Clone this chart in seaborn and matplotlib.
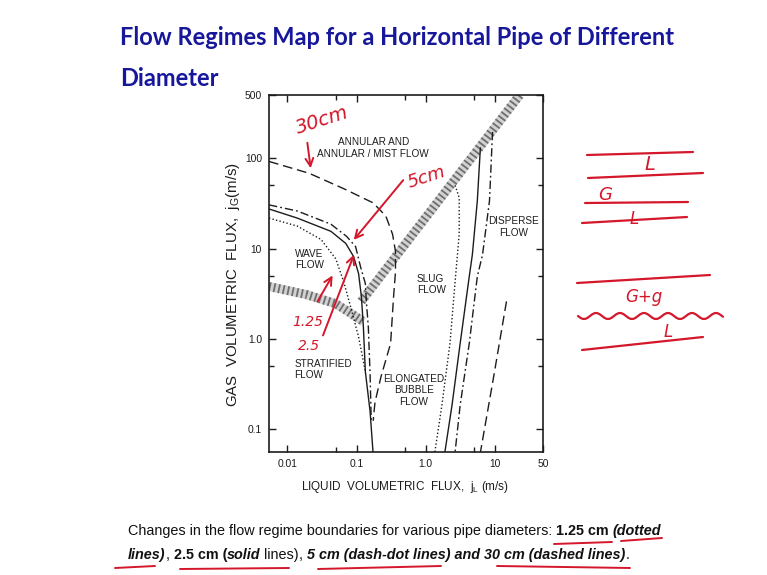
import matplotlib
matplotlib.use("Agg")
import numpy as np
import pandas as pd
import matplotlib.pyplot as plt
import seaborn as sns
from matplotlib import font_manager
from matplotlib.lines import Line2D

# ---------------- data ----------------
x_tick_values = [0.01, 0.1, 1.0, 10, 50]
x_tick_labels = ["0.01", "0.1", "1.0", "10", "50"]
x_minor_values = [0.05, 0.5, 5]
y_tick_values = [0.1, 1.0, 10, 100, 500]
y_tick_labels = ["0.1", "1.0", "10", "100", "500"]
y_minor_values = [0.5, 5, 50]

# hatched transition bands
band_slug_jl = [0.117, 1.0, 23.0]
band_slug_jg = [2.6, 22.0, 500.0]
band_strat_jl = [0.0054, 0.0186, 0.050, 0.076, 0.126]
band_strat_jg = [3.8, 3.1, 2.45, 2.0, 1.55]

# 1.25 cm (dotted)
d125_left_jl = [0.0054, 0.0139, 0.0306, 0.050, 0.065, 0.082, 0.107, 0.134]
d125_left_jg = [21.7, 17.7, 12.6, 7.7, 4.3, 2.27, 1.05, 0.435]
d125_right_jl = [2.67, 3.06, 3.06, 2.67, 2.25, 1.72, 1.36]
d125_right_jg = [50, 36.5, 14.4, 4.3, 0.89, 0.185, 0.056]

# 2.5 cm (solid)
d25_left_jl = [0.0054, 0.0139, 0.0425, 0.0697, 0.0906, 0.107, 0.1175, 0.1255, 0.134, 0.157, 0.173]
d25_left_jg = [27.4, 21.7, 15.5, 11.4, 8.15, 5.27, 2.93, 1.36, 0.435, 0.157, 0.056]
d25_right_jl = [6.2, 5.6, 4.75, 4.28, 3.16, 2.41, 1.9]
d25_right_jg = [130, 33.7, 8.6, 4.9, 0.89, 0.185, 0.056]

# 5 cm (dash-dot)
d5_left_jl = [0.0054, 0.0139, 0.0425, 0.072, 0.0968, 0.114, 0.134, 0.138, 0.148, 0.157, 0.163]
d5_left_jg = [30.4, 26, 18.6, 13.6, 10.5, 6.3, 4.1, 2.7, 1.36, 0.405, 0.124]
d5_right_jl = [9.3, 8.4, 6.67, 5.6, 4.28, 3.16, 2.67]
d5_right_jg = [195, 33.7, 8.6, 4.9, 0.89, 0.185, 0.056]

# 30 cm (dashed)
d30_left_jl = [0.0054, 0.0206, 0.065, 0.174, 0.265, 0.332, 0.366, 0.366, 0.343, 0.311, 0.225, 0.185, 0.174]
d30_left_jg = [92, 68, 46, 32, 22.9, 14.4, 9.3, 5.5, 2.9, 0.89, 0.378, 0.2, 0.124]
d30_right_jl = [14.8, 9.7, 6.22]
d30_right_jg = [2.6, 0.39, 0.056]

region_labels = ["ANNULAR AND\nANNULAR / MIST FLOW", "WAVE\nFLOW", "SLUG\nFLOW",
                 "DISPERSE\nFLOW", "STRATIFIED\nFLOW", "ELONGATED\nBUBBLE\nFLOW"]
region_x = [0.174, 0.013, 0.746, 19.0, 0.0126, 0.678]
region_y = [130, 7.55, 3.98, 17.2, 0.457, 0.271]
region_ha = ["center", "left", "left", "center", "left", "center"]

title_line1 = "Flow Regimes Map for a Horizontal Pipe of Different"
title_line2 = "Diameter"
caption_segments = [
    ("Changes in the flow regime boundaries for various pipe diameters: ", "normal", "normal"),
    ("1.25 cm ", "bold", "normal"),
    ("(dotted", "bold", "italic"),
]
caption_segments2 = [
    ("lines)", "bold", "italic"),
    (", ", "normal", "normal"),
    ("2.5 cm (", "bold", "normal"),
    ("solid", "bold", "italic"),
    (" lines)", "normal", "normal"),
    (", ", "normal", "normal"),
    ("5 cm (dash-dot lines) and 30 cm (dashed lines)", "bold", "italic"),
    (".", "normal", "normal"),
]

# ---------------- style ----------------
sns.set_theme(style="ticks")
names = {f.name for f in font_manager.fontManager.ttflist}
NARROW = "Liberation Sans Narrow" in names
cfont = "Liberation Sans Narrow" if NARROW else "Liberation Sans"
k = 1.0 if NARROW else 0.82
plt.rcParams["font.family"] = [cfont, "DejaVu Sans"]
plt.rcParams["mathtext.fontset"] = "custom"
plt.rcParams["mathtext.rm"] = cfont
plt.rcParams["mathtext.it"] = cfont + ":italic"

W, H = 767, 575
fig = plt.figure(figsize=(W / 100, H / 100), dpi=100, facecolor="white")
ax = fig.add_axes([269 / W, 1 - 452 / H, (543 - 269) / W, (452 - 95) / H])
ax.set_facecolor("white")
ax.set_xscale("log")
ax.set_yscale("log")
ax.set_xlim(0.0054, 50)
ax.set_ylim(0.056, 500)

INK = "#1c1c1c"


def band(jl, jg):
    df = pd.DataFrame({"jl": jl, "jg": jg})
    sns.lineplot(data=df, x="jl", y="jg", sort=False, estimator=None, ax=ax,
                 color="#d2d2d2", lw=6.5, solid_capstyle="butt")
    sns.lineplot(data=df, x="jl", y="jg", sort=False, estimator=None, ax=ax,
                 color="#6e6e6e", lw=6.5)
    ln = ax.lines[-1]
    ln.set_linestyle((0, (0.2, 0.32)))
    ln.set_dash_capstyle("butt")


def curve(jl, jg, ls):
    df = pd.DataFrame({"jl": jl, "jg": jg})
    sns.lineplot(data=df, x="jl", y="jg", sort=False, estimator=None, ax=ax,
                 color=INK, lw=1.0)
    ax.lines[-1].set_linestyle(ls)


band(band_slug_jl, band_slug_jg)
band(band_strat_jl, band_strat_jg)

DOT = (0, (1.0, 1.6))
DASHDOT = (0, (6, 2.2, 1.3, 2.2))
DASH = (0, (7, 3.5))
curve(d125_left_jl, d125_left_jg, DOT)
curve(d125_right_jl, d125_right_jg, DOT)
curve(d25_left_jl, d25_left_jg, "-")
curve(d25_right_jl, d25_right_jg, "-")
curve(d5_left_jl, d5_left_jg, DASHDOT)
curve(d5_right_jl, d5_right_jg, DASHDOT)
curve(d30_left_jl, d30_left_jg, DASH)
curve(d30_right_jl, d30_right_jg, DASH)

for lab, xv, yv, ha in zip(region_labels, region_x, region_y, region_ha):
    ax.text(xv, yv, lab, ha=ha, va="center", multialignment=ha,
            fontsize=8.8 * k, color=INK, linespacing=1.2)

ax.set_xticks(x_tick_values)
ax.set_xticklabels(x_tick_labels)
ax.set_xticks(x_minor_values, minor=True)
ax.set_xticklabels([], minor=True)
ax.set_yticks(y_tick_values)
ax.set_yticklabels(y_tick_labels)
ax.set_yticks(y_minor_values, minor=True)
ax.set_yticklabels([], minor=True)
ax.tick_params(which="both", direction="in", top=True, right=True,
               colors=INK, width=1.0)
ax.tick_params(which="major", length=5, labelsize=9 * k, pad=5)
ax.tick_params(which="minor", length=3.5)
for s in ax.spines.values():
    s.set_color(INK)
    s.set_linewidth(1.2)

ax.set_xlabel(r"LIQUID  VOLUMETRIC  FLUX,  $\mathrm{j_L}$ (m/s)", fontsize=10.3 * k, color=INK)
ax.set_ylabel(r"GAS  VOLUMETRIC  FLUX,  $\mathrm{j_G}$(m/s)", fontsize=13.2 * k, color=INK)
ax.xaxis.set_label_coords(0.496, -0.075)
ax.yaxis.set_label_coords(-0.098, 0.468)

# ---------------- title ----------------
tfont = "Liberation Sans Narrow" if NARROW else "Lato"
tsize = 18.3 if NARROW else 17.0
for line, base in ((title_line1, 45), (title_line2, 86)):
    fig.text(120 / W, 1 - base / H, line, ha="left", va="baseline", fontsize=tsize,
             fontweight="bold", color="#17179c", family=[tfont, "DejaVu Sans"])

# ---------------- caption (mixed styles) ----------------
CAPSIZE = 12 if NARROW else 10.35


def chain(segs, x, y):
    t0, w0, s0 = segs[0]
    prev = fig.text(x, y, t0, fontsize=CAPSIZE, fontweight=w0, fontstyle=s0,
                    color="#111111", ha="left", va="baseline")
    for txt, w, s in segs[1:]:
        prev = ax.annotate(txt, xy=(1, 0), xycoords=prev, ha="left", va="bottom",
                           fontsize=CAPSIZE, fontweight=w, fontstyle=s,
                           color="#111111", annotation_clip=False)
    return prev


chain(caption_segments, 128 / W, 1 - 535 / H)
chain(caption_segments2, 128 / W, 1 - 559 / H)

# ---------------- handwritten red annotations ----------------
RED = "#d4172a"


def fp(x, y):
    return (x / W, 1 - y / H)


def red_line(pts, lw=1.6):
    xs = [p[0] / W for p in pts]
    ys = [1 - p[1] / H for p in pts]
    fig.add_artist(Line2D(xs, ys, transform=fig.transFigure, color=RED, lw=lw,
                          solid_capstyle="round"))


def red_arrow(a, b):
    ax.annotate("", xy=(b[0], H - b[1]), xytext=(a[0], H - a[1]),
                xycoords="figure pixels", textcoords="figure pixels",
                arrowprops=dict(arrowstyle="->", color=RED, lw=1.4,
                                mutation_scale=14), annotation_clip=False)


hand = dict(color=RED, fontstyle="italic", family=["DejaVu Sans"])
fig.text(*fp(293, 134), "30cm", fontsize=14, rotation=18, ha="left", va="baseline", **hand)
fig.text(*fp(405, 188), "5cm", fontsize=13, rotation=18, ha="left", va="baseline", **hand)
fig.text(*fp(292, 326), "1.25", fontsize=10, rotation=0, ha="left", va="baseline", **hand)
fig.text(*fp(298, 350), "2.5", fontsize=10, rotation=0, ha="left", va="baseline", **hand)
red_arrow((307, 140), (311, 171))
red_arrow((405, 178), (352, 242))
red_arrow((316, 304), (334, 273))
red_arrow((322, 338), (355, 252))

# right-hand sketches
red_line([(587, 155), (693, 152)])
red_line([(588, 178), (703, 173)])
red_line([(585, 203), (688, 202)])
red_line([(582, 223), (687, 217)])
red_line([(577, 283), (710, 275)])
red_line([(582, 350), (703, 337)])
wx = np.linspace(578, 723, 120)
wy = 316 + 3.0 * np.sin((wx - 578) / 24.0 * 2 * np.pi)
red_line(list(zip(wx, wy)))
fig.text(*fp(644, 170), "L", fontsize=14, ha="left", va="baseline", **hand)
fig.text(*fp(598, 200), "G", fontsize=13, ha="left", va="baseline", **hand)
fig.text(*fp(630, 224), "L", fontsize=12, ha="left", va="baseline", **hand)
fig.text(*fp(625, 302), "G+g", fontsize=12, ha="left", va="baseline", **hand)
fig.text(*fp(664, 337), "L", fontsize=12, ha="left", va="baseline", **hand)

# caption underlines
red_line([(554, 544), (612, 542)], lw=1.4)
red_line([(621, 541), (662, 538)], lw=1.4)
red_line([(115, 568), (155, 566)], lw=1.4)
red_line([(180, 569), (289, 568)], lw=1.4)
red_line([(318, 569), (441, 566)], lw=1.4)
red_line([(497, 566), (630, 568)], lw=1.4)

fig.savefig("out.png", dpi=100, facecolor="white")
